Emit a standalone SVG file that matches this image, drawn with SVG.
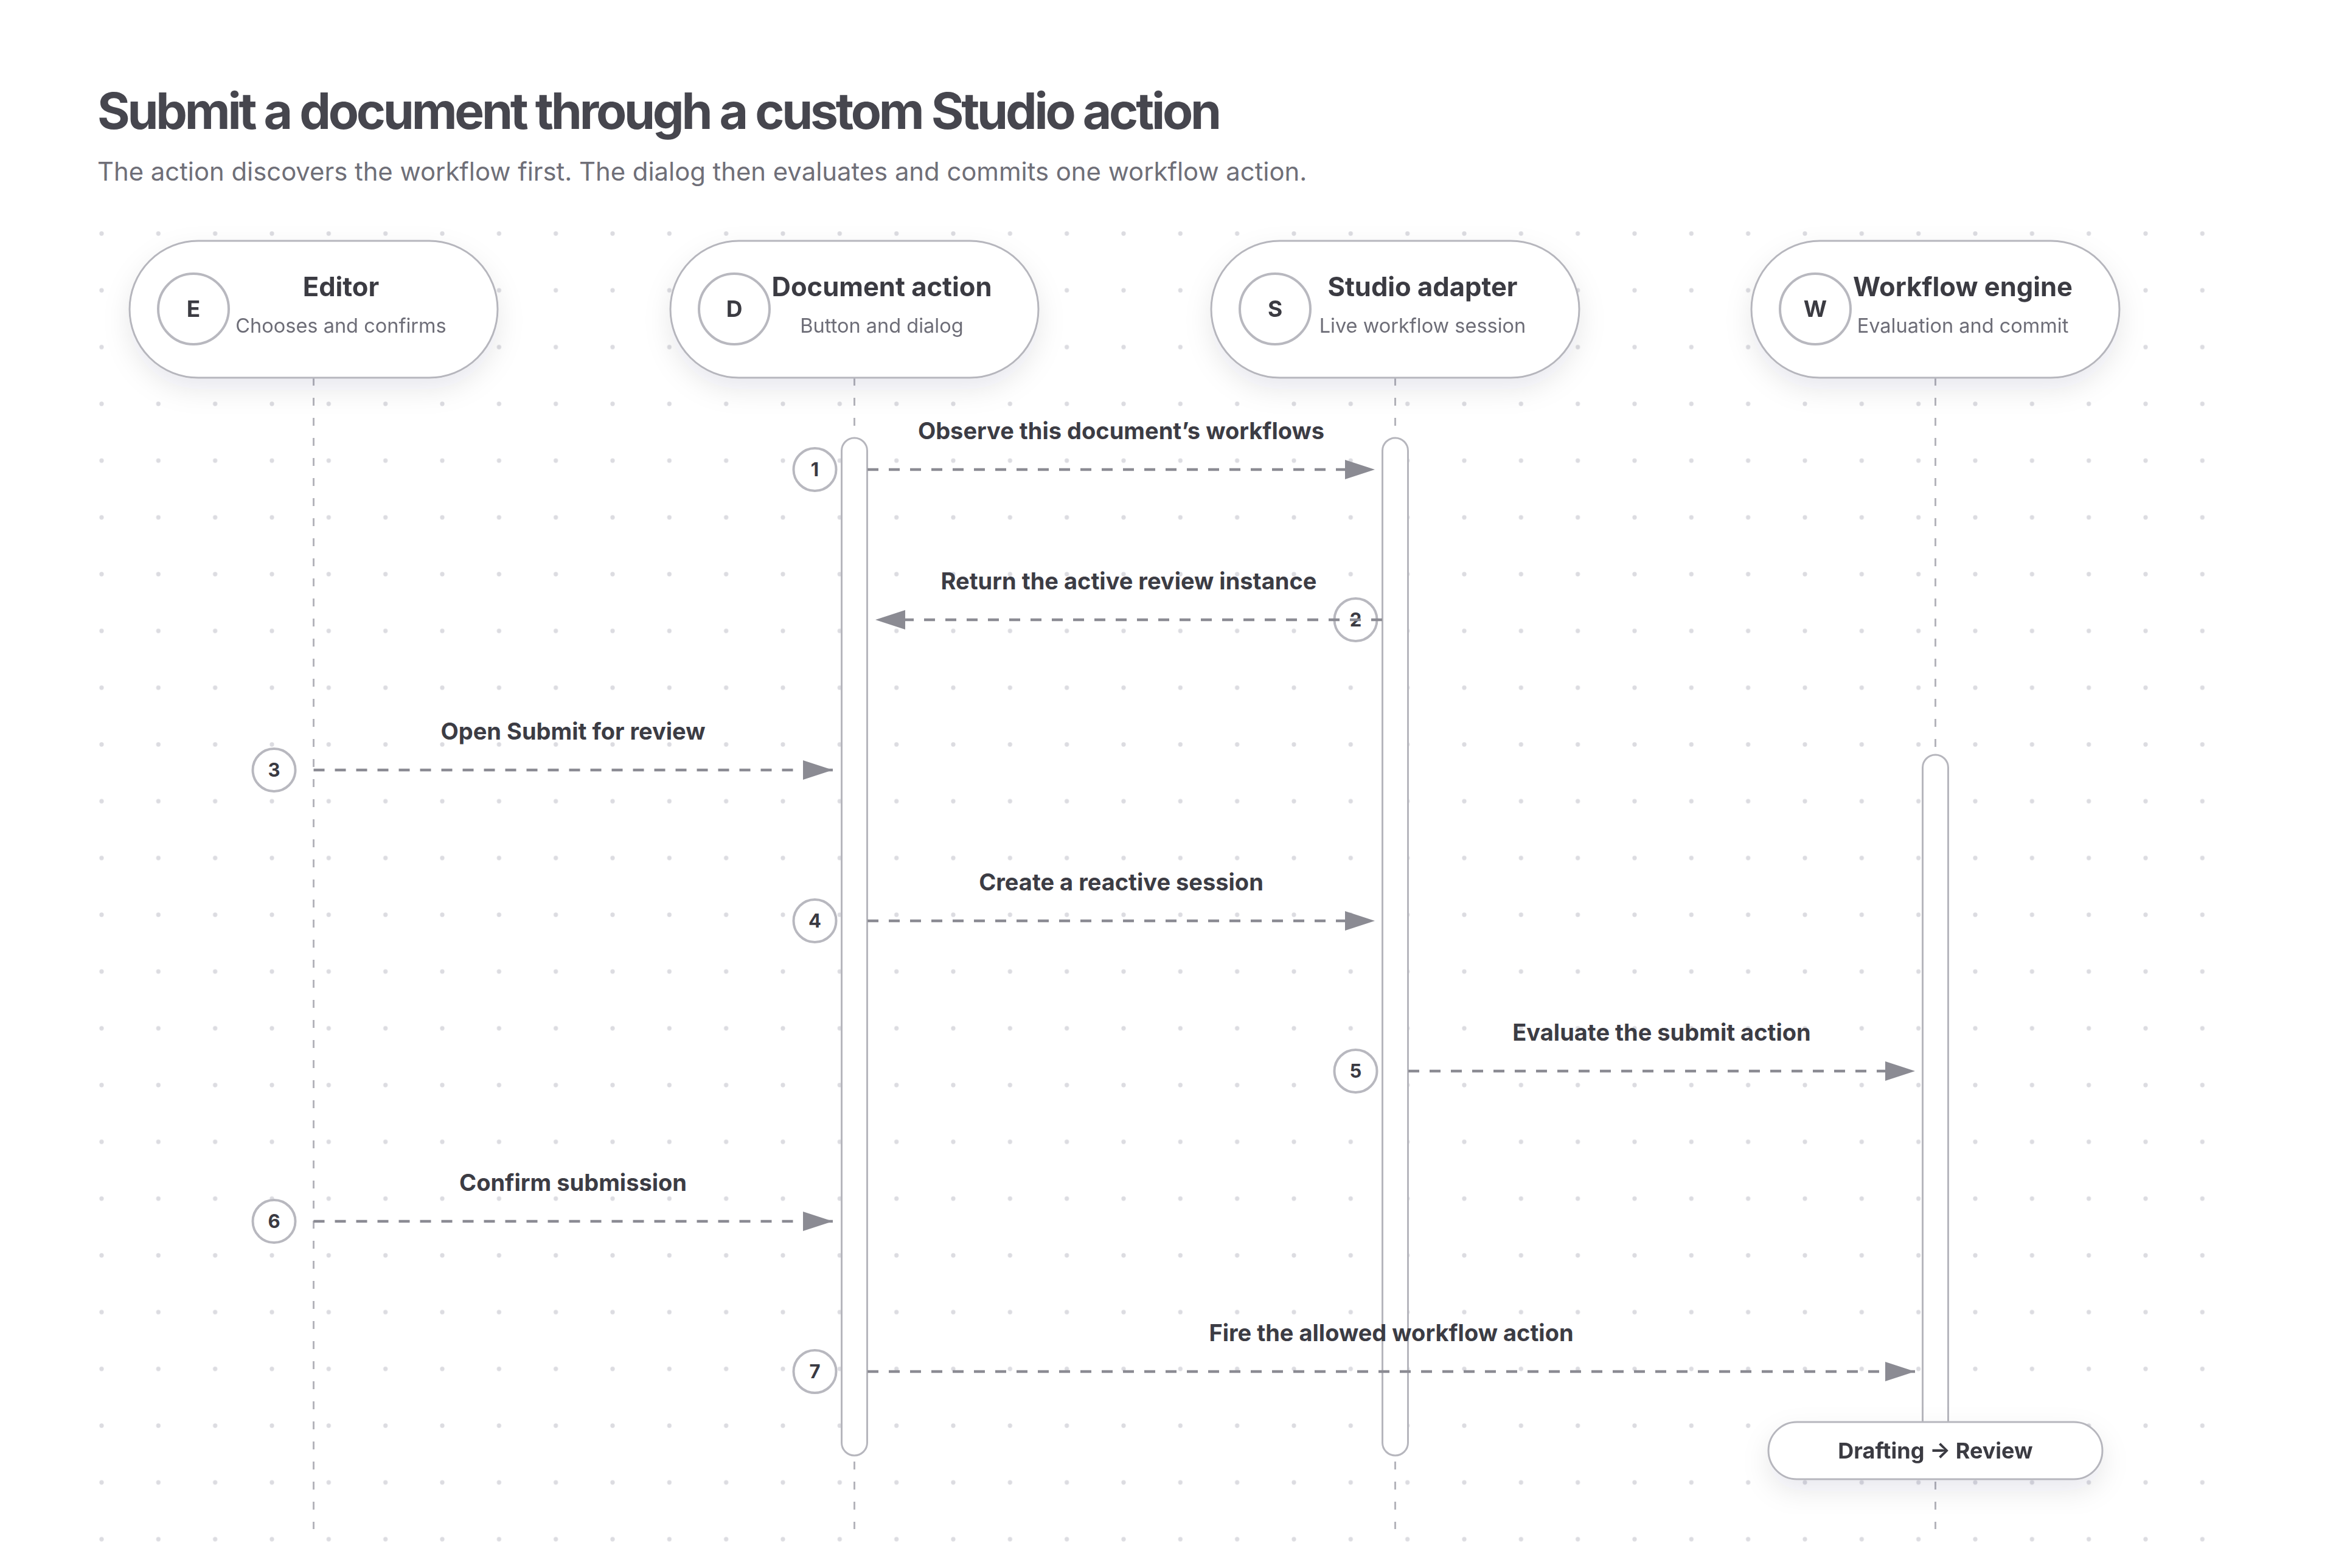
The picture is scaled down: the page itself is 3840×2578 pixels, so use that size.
<svg xmlns="http://www.w3.org/2000/svg" width="3840" height="2578" viewBox="0 0 3840 2578">
<defs>
<pattern id="dots" x="120.33" y="337.33" width="93.333" height="93.333" patternUnits="userSpaceOnUse">
<circle cx="46.667" cy="46.667" r="3.6" fill="#dcdce1"/>
</pattern>
<filter id="shadow" x="-20%" y="-40%" width="140%" height="200%">
<feDropShadow dx="0" dy="18" stdDeviation="22" flood-color="#1a1a2e" flood-opacity="0.09"/>
</filter>
<marker id="arrow" markerUnits="userSpaceOnUse" markerWidth="49" markerHeight="32" refX="49" refY="16" orient="auto">
<path d="M0,0 L49,16 L0,32 Z" fill="#8b8b93"/>
</marker>
<style>
.title{font-family:Inter,"Liberation Sans",sans-serif;font-weight:700;font-size:82px;fill:#46464e;letter-spacing:-4.2px}
.sub{font-family:Inter,"Liberation Sans",sans-serif;font-size:41.8px;fill:#6f6f78}
.pill{fill:#ffffff;stroke:#b6b6bd;stroke-width:3}
.avatar{fill:#ffffff;stroke:#b8b8bf;stroke-width:4}
.avl{font-family:Inter,"Liberation Sans",sans-serif;font-weight:700;font-size:37px;fill:#3a3a42;text-anchor:middle}
.nt{font-family:Inter,"Liberation Sans",sans-serif;font-weight:700;font-size:43.5px;fill:#3b3b43;text-anchor:middle}
.ns{font-family:Inter,"Liberation Sans",sans-serif;font-size:32.5px;fill:#6d6d77;text-anchor:middle}
.life{stroke:#b4b4bb;stroke-width:3;stroke-dasharray:13 20;fill:none}
.bar{fill:#ffffff;stroke:#b6b6bd;stroke-width:3}
.msg{stroke:#8b8b93;stroke-width:4.5;stroke-dasharray:18 17;fill:none;marker-end:url(#arrow)}
.badge{fill:#ffffff;stroke:#b8b8bf;stroke-width:4}
.bn{font-family:Inter,"Liberation Sans",sans-serif;font-weight:700;font-size:31px;fill:#3a3a42;text-anchor:middle}
.ml{font-family:Inter,"Liberation Sans",sans-serif;font-weight:700;font-size:38px;fill:#3c3c44;text-anchor:middle}
.st{font-family:Inter,"Liberation Sans",sans-serif;font-weight:700;font-size:36px;fill:#3b3b43;text-anchor:middle}
</style>
</defs>
<rect width="3840" height="2578" fill="#ffffff"/>
<rect x="120" y="337" width="3548" height="2241" fill="url(#dots)"/>

<text class="title" x="160" y="212">Submit a document through a custom Studio action</text>
<text class="sub" x="160" y="297">The action discovers the workflow first. The dialog then evaluates and commits one workflow action.</text>

<g id="lifelines">
<line class="life" x1="515.5" y1="621" x2="515.5" y2="2514"/>
<line class="life" x1="1404.5" y1="621" x2="1404.5" y2="2514"/>
<line class="life" x1="2293.5" y1="621" x2="2293.5" y2="2514"/>
<line class="life" x1="3181.5" y1="621" x2="3181.5" y2="2514"/>
</g>

<g id="activations">
<rect class="bar" x="1383.5" y="720" width="42" height="1673" rx="21"/>
<rect class="bar" x="2272.5" y="720" width="42" height="1673" rx="21"/>
<rect class="bar" x="3160.5" y="1241" width="42" height="1140" rx="21"/>
</g>

<g id="node-editor" filter="url(#shadow)">
<rect class="pill" x="213" y="396" width="605" height="225" rx="112.5"/>
<circle class="avatar" cx="318" cy="508" r="58"/>
<text class="avl" x="318" y="521">E</text>
<text class="nt" x="560.5" y="487">Editor</text>
<text class="ns" x="560.5" y="547">Chooses and confirms</text>
</g>
<g id="node-document-action" filter="url(#shadow)">
<rect class="pill" x="1102" y="396" width="605" height="225" rx="112.5"/>
<circle class="avatar" cx="1207" cy="508" r="58"/>
<text class="avl" x="1207" y="521">D</text>
<text class="nt" x="1449.5" y="487">Document action</text>
<text class="ns" x="1449.5" y="547">Button and dialog</text>
</g>
<g id="node-studio-adapter" filter="url(#shadow)">
<rect class="pill" x="1991" y="396" width="605" height="225" rx="112.5"/>
<circle class="avatar" cx="2096" cy="508" r="58"/>
<text class="avl" x="2096" y="521">S</text>
<text class="nt" x="2338.5" y="487">Studio adapter</text>
<text class="ns" x="2338.5" y="547">Live workflow session</text>
</g>
<g id="node-workflow-engine" filter="url(#shadow)">
<rect class="pill" x="2879" y="396" width="605" height="225" rx="112.5"/>
<circle class="avatar" cx="2984" cy="508" r="58"/>
<text class="avl" x="2984" y="521">W</text>
<text class="nt" x="3226.5" y="487">Workflow engine</text>
<text class="ns" x="3226.5" y="547">Evaluation and commit</text>
</g>
<g id="node-state" filter="url(#shadow)">
<rect class="pill" x="2907" y="2338" width="549" height="94" rx="47"/>
<text class="st" x="3181.5" y="2398">Drafting → Review</text>
</g>

<g id="connectors">
<g id="msg-1">
<circle class="badge" cx="1339.5" cy="772" r="35"/>
<text class="bn" x="1339.5" y="783">1</text>
<path class="msg" d="M1426,772 H2260"/>
<text class="ml" x="1843" y="722">Observe this document’s workflows</text>
</g>
<g id="msg-2">
<circle class="badge" cx="2228.5" cy="1019" r="35"/>
<text class="bn" x="2228.5" y="1030">2</text>
<path class="msg" d="M2272,1019 H1439"/>
<text class="ml" x="1855.5" y="969">Return the active review instance</text>
</g>
<g id="msg-3">
<circle class="badge" cx="450.5" cy="1266" r="35"/>
<text class="bn" x="450.5" y="1277">3</text>
<path class="msg" d="M515.5,1266 H1369"/>
<text class="ml" x="942" y="1216">Open Submit for review</text>
</g>
<g id="msg-4">
<circle class="badge" cx="1339.5" cy="1514" r="35"/>
<text class="bn" x="1339.5" y="1525">4</text>
<path class="msg" d="M1426,1514 H2260"/>
<text class="ml" x="1843" y="1464">Create a reactive session</text>
</g>
<g id="msg-5">
<circle class="badge" cx="2228.5" cy="1761" r="35"/>
<text class="bn" x="2228.5" y="1772">5</text>
<path class="msg" d="M2315,1761 H3148"/>
<text class="ml" x="2731.5" y="1711">Evaluate the submit action</text>
</g>
<g id="msg-6">
<circle class="badge" cx="450.5" cy="2008" r="35"/>
<text class="bn" x="450.5" y="2019">6</text>
<path class="msg" d="M515.5,2008 H1369"/>
<text class="ml" x="942" y="1958">Confirm submission</text>
</g>
<g id="msg-7">
<circle class="badge" cx="1339.5" cy="2255" r="35"/>
<text class="bn" x="1339.5" y="2266">7</text>
<path class="msg" d="M1426,2255 H3148"/>
<text class="ml" x="2287" y="2205">Fire the allowed workflow action</text>
</g>
</g>
</svg>
